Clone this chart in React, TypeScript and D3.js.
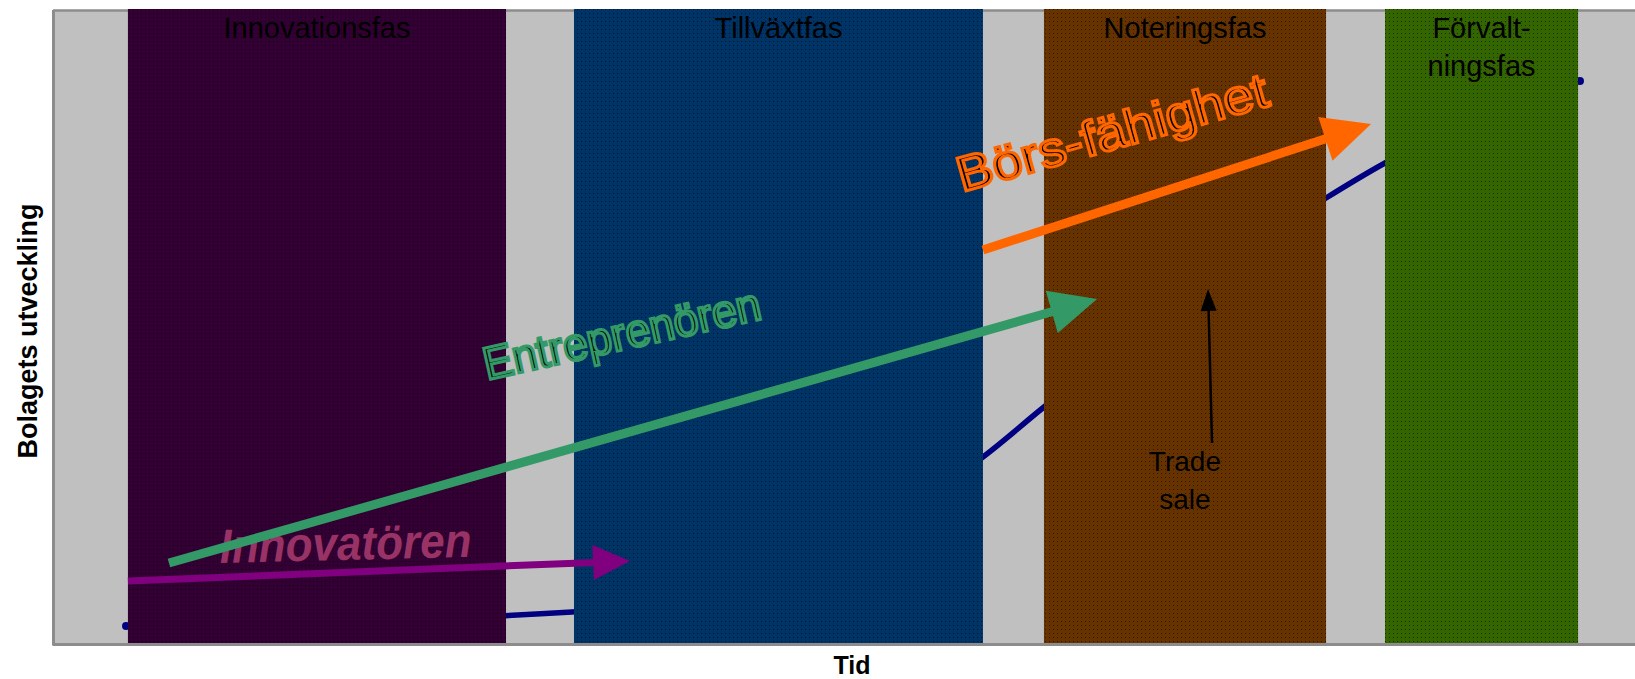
import React from "react";
import * as d3 from "d3";

// ---- data ----
const phaseNames = ["Innovationsfas", "Tillväxtfas", "Noteringsfas", "Förvalt-|ningsfas"];
const phaseStart = [4.73, 32.89, 62.56, 84.09];
const phaseEnd = [28.6, 58.71, 80.37, 96.28];

const lineTime = [4.61, 32.77, 58.71, 62.56, 80.37, 84.09, 96.4];
const lineValue = [2.84, 5.05, 29.5, 37.38, 70.35, 75.87, 88.8];

const arrowNames = ["Innovatören", "Entreprenören", "Börs-fähighet", "Trade|sale"];
const arrowFromT = [4.73, 7.32, 58.71, 73.17];
const arrowFromV = [9.94, 12.78, 62.15, 31.7];
const arrowToT = [36.43, 65.91, 83.21, 72.92];
const arrowToV = [13.09, 54.42, 82.02, 55.99];

const labelT = [10.54, 27.4, 57.39, 71.46];
const labelV = [12.78, 41.64, 71.29, 27.29];

const xTitle = "Tid";
const yTitle = "Bolagets utveckling";

// ---- styles ----
const W = 1635;
const H = 679;
const M = { left: 53, top: 10, right: 1637, bottom: 644 };
const FONT = "'Liberation Sans', Arial, Helvetica, sans-serif";
const phaseColors = ["#330033", "#003366", "#663300", "#336600"];
const arrowColors = ["#800080", "#339966", "#FF6600", "#000000"];
const arrowStroke = [7, 9, 9, 2.5];
const arrowHeadLen = [37, 47, 48, 22];
const arrowHeadWid = [35, 44, 46, 16];
const labelRot = [-1.4, -12.5, -15.7, 0];
const labelLen = [252, 283, 321, 0];
const labelSize = [48, 46, 49, 28];

function arrowGeom(x1: number, y1: number, x2: number, y2: number, L: number, Wd: number) {
  const dx = x2 - x1;
  const dy = y2 - y1;
  const len = Math.hypot(dx, dy);
  const ux = dx / len;
  const uy = dy / len;
  const nx = -uy;
  const ny = ux;
  const bx = x2 - ux * L;
  const by = y2 - uy * L;
  const head = [
    [x2, y2],
    [bx + (nx * Wd) / 2, by + (ny * Wd) / 2],
    [bx - (nx * Wd) / 2, by - (ny * Wd) / 2],
  ];
  return { bx: bx + ux * 2, by: by + uy * 2, head: head.map((p) => p.join(",")).join(" ") };
}

export default function App() {
  const x = d3.scaleLinear().domain([0, 100]).range([M.left, M.right]);
  const y = d3.scaleLinear().domain([0, 100]).range([M.bottom, M.top]);

  const pts: [number, number][] = lineTime.map((t, i) => [x(t), y(lineValue[i])]);
  const linePath = d3.line().curve(d3.curveMonotoneX)(pts) || "";

  const arrows = arrowNames.map((_, i) =>
    arrowGeom(
      x(arrowFromT[i]),
      y(arrowFromV[i]),
      x(arrowToT[i]),
      y(arrowToV[i]),
      arrowHeadLen[i],
      arrowHeadWid[i]
    )
  );

  const drawArrow = (i: number) => {
    const a = arrows[i];
    return (
      <g key={"arrow" + i}>
        <line
          x1={x(arrowFromT[i])}
          y1={y(arrowFromV[i])}
          x2={a.bx}
          y2={a.by}
          stroke={arrowColors[i]}
          strokeWidth={arrowStroke[i]}
        />
        <polygon points={a.head} fill={arrowColors[i]} />
      </g>
    );
  };

  return (
    <svg
      width={W}
      height={H}
      style={{ position: "absolute", left: 0, top: 0, display: "block", background: "#fff" }}
      fontFamily={FONT}
    >
      <defs>
        {phaseColors.map((c, i) => (
          <pattern key={i} id={"dots" + i} width={4} height={4} patternUnits="userSpaceOnUse">
            <rect width={4} height={4} fill={c} />
            <rect x={1} y={1} width={1} height={1} fill="#000" opacity={0.55} />
          </pattern>
        ))}
      </defs>

      {/* plot background */}
      <rect x={M.left} y={M.top} width={W - M.left + 10} height={M.bottom - M.top} fill="#C0C0C0" />
      <line x1={M.left} y1={M.top + 0.5} x2={W + 10} y2={M.top + 0.5} stroke="#8c8c8c" strokeWidth={2.5} />

      {/* development line */}
      <path d={linePath} fill="none" stroke="#000080" strokeWidth={5.5} strokeLinecap="round" />
      {[0, lineTime.length - 1].map((i) => (
        <circle key={i} cx={x(lineTime[i])} cy={y(lineValue[i])} r={4} fill="#000080" />
      ))}

      {/* phase bands */}
      {phaseNames.map((_, i) => (
        <rect
          key={"band" + i}
          x={x(phaseStart[i])}
          y={M.top - 1}
          width={x(phaseEnd[i]) - x(phaseStart[i])}
          height={M.bottom - M.top}
          fill={`url(#dots${i})`}
        />
      ))}

      {/* borders */}
      <line x1={M.left + 0.5} y1={M.top} x2={M.left + 0.5} y2={M.bottom + 1.5} stroke="#8c8c8c" strokeWidth={3} />
      <line x1={M.left} y1={M.bottom + 0.5} x2={W + 10} y2={M.bottom + 0.5} stroke="#8c8c8c" strokeWidth={3} />

      {/* phase labels */}
      {phaseNames.map((n, i) => {
        const cx = (x(phaseStart[i]) + x(phaseEnd[i])) / 2;
        return n.split("|").map((ln, j) => (
          <text key={"pl" + i + j} x={cx} y={38 + j * 38} textAnchor="middle" fontSize={29} fill="#000">
            {ln}
          </text>
        ));
      })}

      {/* Innovatören text (below the green arrow) */}
      <text
        transform={`translate(${x(labelT[0])},${y(labelV[0])}) rotate(${labelRot[0]})`}
        fontSize={labelSize[0]}
        fontWeight="bold"
        fontStyle="italic"
        fill="#993366"
        textLength={labelLen[0]}
        lengthAdjust="spacingAndGlyphs"
      >
        {arrowNames[0]}
      </text>

      {drawArrow(0)}
      {drawArrow(1)}
      {drawArrow(2)}
      {drawArrow(3)}

      {/* outlined labels */}
      {[1, 2].map((i) => (
        <text
          key={"lab" + i}
          transform={`translate(${x(labelT[i])},${y(labelV[i])}) rotate(${labelRot[i]})`}
          fontSize={labelSize[i]}
          fill="#000"
          stroke={arrowColors[i]}
          strokeWidth={3}
          textLength={labelLen[i]}
          lengthAdjust="spacingAndGlyphs"
        >
          {arrowNames[i]}
        </text>
      ))}

      {/* Trade sale */}
      {arrowNames[3].split("|").map((ln, j) => (
        <text
          key={"ts" + j}
          x={x(labelT[3])}
          y={y(labelV[3]) + j * 38}
          textAnchor="middle"
          fontSize={labelSize[3]}
          fill="#000"
        >
          {ln}
        </text>
      ))}

      {/* axis titles */}
      <text x={852} y={674} textAnchor="middle" fontSize={25} fontWeight="bold" fill="#000">
        {xTitle}
      </text>
      <text
        transform="translate(37,331) rotate(-90)"
        textAnchor="middle"
        fontSize={27}
        fontWeight="bold"
        fill="#000"
      >
        {yTitle}
      </text>
    </svg>
  );
}
